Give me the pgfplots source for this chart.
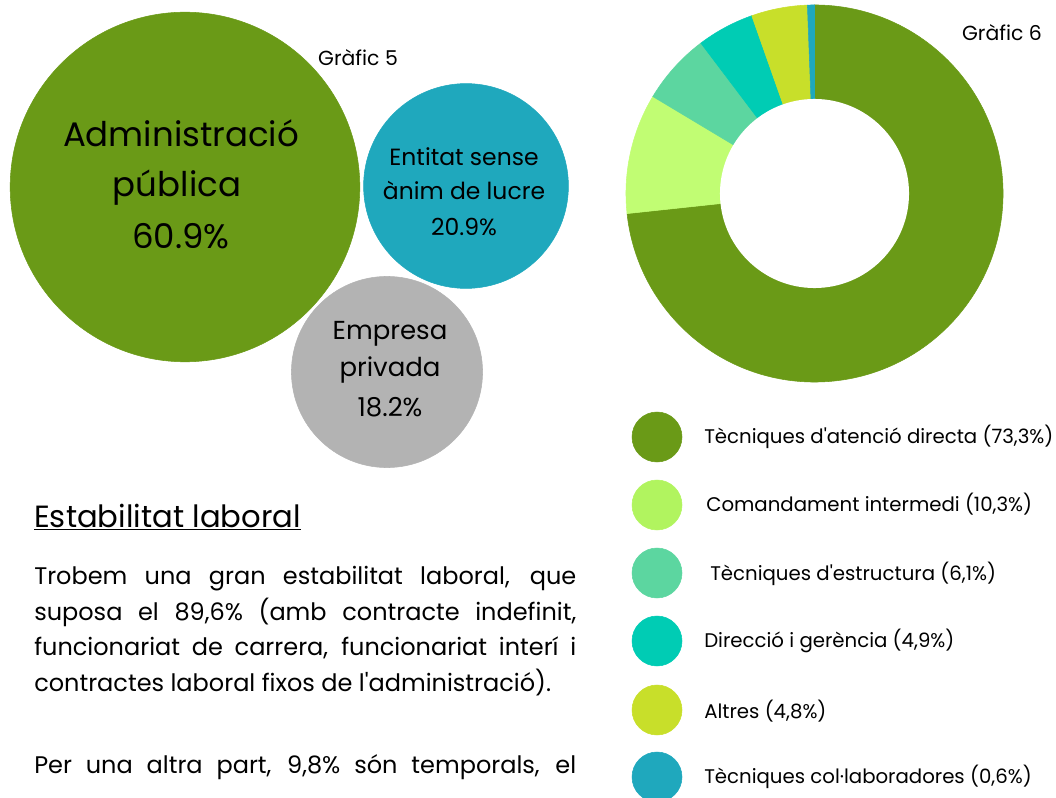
\documentclass[border=0pt]{standalone}
\usepackage{fontspec}
\setmainfont{Poppins}[Ligatures=TeXOff]
\usepackage{pgfplots}
\pgfplotsset{compat=1.18}
\definecolor{cOlive}{HTML}{6A9A17}
\definecolor{cTeal}{HTML}{1FA8BD}
\definecolor{cGray}{HTML}{B3B3B3}
\definecolor{cLight}{HTML}{C1FD73}
\definecolor{cLightL}{HTML}{B1F45F}
\definecolor{cMint}{HTML}{5CD6A0}
\definecolor{cTurq}{HTML}{00CCB4}
\definecolor{cYel}{HTML}{C8DF2A}
\newcommand\fs[1]{\fontsize{#1}{#1}\selectfont}
\newcommand\donutslice[3]{%
\pgfmathsetmacro\aS{90-3.6*#1}%
\pgfmathsetmacro\aE{90-3.6*(#1+#2)}%
\edef\tmp{\noexpand\fill[#3, draw=#3, line width=0.4pt] (axis cs:814.5,193.5) -- ++(\aS:141.4pt) arc[start angle=\aS,end angle=\aE,radius=141.4pt] -- cycle;}%
\tmp}
\begin{document}
\begin{tikzpicture}
\begin{axis}[width=792pt,height=598.5pt,scale only axis,
  xmin=0,xmax=1056,ymin=0,ymax=798,y dir=reverse,hide axis,clip=false]
\coordinate (bl) at (axis cs:0,798);
\coordinate (tr) at (axis cs:1056,0);
% ---- Bubble chart (area proportional to share)
\addplot[only marks, mark=*, mark size={sqrt(60.9)*16.8}, mark options={fill=cOlive, draw=cOlive}] coordinates {(185,187)};
\addplot[only marks, mark=*, mark size={sqrt(20.9)*16.8}, mark options={fill=cTeal, draw=cTeal}] coordinates {(466,186)};
\addplot[only marks, mark=*, mark size={sqrt(18.2)*16.8}, mark options={fill=cGray, draw=cGray}] coordinates {(387,372)};
\coordinate (a1) at (axis cs:181,147);
\coordinate (a2) at (axis cs:177,197);
\coordinate (a3) at (axis cs:181,249);
\coordinate (b1) at (axis cs:464,166);
\coordinate (b2) at (axis cs:464,200);
\coordinate (b3) at (axis cs:464,236);
\coordinate (c1) at (axis cs:390,340);
\coordinate (c2) at (axis cs:390,377);
\coordinate (c3) at (axis cs:390,417);
\node[anchor=base] at (axis cs:358,66) {\fs{15.3}Gràfic 5};
\node[anchor=base] at (axis cs:1002,41) {\fs{15.3}Gràfic 6};
% ---- Donut chart
\donutslice{0}{73.3}{cOlive}
\donutslice{73.3}{10.3}{cLight}
\donutslice{83.6}{6.1}{cMint}
\donutslice{89.7}{4.9}{cTurq}
\donutslice{94.6}{4.8}{cYel}
\donutslice{99.4}{0.6}{cTeal}
\fill[white] (axis cs:814.5,193.5) circle[radius=70.9pt];
% ---- Legend
\addplot[only marks, mark=*, mark size=18.75, mark options={fill=cOlive, draw=cOlive}] coordinates {(657,437)};
\addplot[only marks, mark=*, mark size=18.75, mark options={fill=cLightL, draw=cLightL}] coordinates {(657,505)};
\addplot[only marks, mark=*, mark size=18.75, mark options={fill=cMint, draw=cMint}] coordinates {(657,573)};
\addplot[only marks, mark=*, mark size=18.75, mark options={fill=cTurq, draw=cTurq}] coordinates {(657,641)};
\addplot[only marks, mark=*, mark size=18.75, mark options={fill=cYel, draw=cYel}] coordinates {(657,710)};
\addplot[only marks, mark=*, mark size=18.75, mark options={fill=cTeal, draw=cTeal}] coordinates {(657,777)};
\node[anchor=base west, inner sep=0pt] at (axis cs:704,443) {\fs{14.8}Tècniques d'atenció directa (73,3\%)};
\node[anchor=base west, inner sep=0pt] at (axis cs:706,511) {\fs{14.8}Comandament intermedi (10,3\%)};
\node[anchor=base west, inner sep=0pt] at (axis cs:710,580) {\fs{14.8}Tècniques d'estructura (6,1\%)};
\node[anchor=base west, inner sep=0pt] at (axis cs:704,647) {\fs{14.8}Direcció i gerència (4,9\%)};
\node[anchor=base west, inner sep=0pt] at (axis cs:704,718) {\fs{14.8}Altres (4,8\%)};
\node[anchor=base west, inner sep=0pt] at (axis cs:704,783) {\fs{14.8}Tècniques col·laboradores (0,6\%)};
% ---- Text block
\node[anchor=base west, inner sep=0pt] at (axis cs:34,527) {\fs{23}\underline{Estabilitat laboral}};
\node[anchor=base west, inner sep=0pt] at (axis cs:34,584) {\fs{18}\makebox[406.5pt][s]{Trobem una gran estabilitat laboral, que}};
\node[anchor=base west, inner sep=0pt] at (axis cs:34,620) {\fs{18}\makebox[406.5pt][s]{suposa el 89,6\% (amb contracte indefinit,}};
\node[anchor=base west, inner sep=0pt] at (axis cs:34,655) {\fs{18}\makebox[406.5pt][s]{funcionariat de carrera, funcionariat interí i}};
\node[anchor=base west, inner sep=0pt] at (axis cs:34,691) {\fs{18}contractes laboral fixos de l'administració).};
\node[anchor=base west, inner sep=0pt] at (axis cs:34,773) {\fs{18}\makebox[406.5pt][s]{Per una altra part, 9,8\% són temporals, el}};
\end{axis}
\node[anchor=base] at (a1) {\fs{25.5}Administració};
\node[anchor=base] at (a2) {\fs{25.5}pública};
\node[anchor=base] at (a3) {\fs{25.5}60.9\%};
\node[anchor=base] at (b1) {\fs{17.6}Entitat sense};
\node[anchor=base] at (b2) {\fs{17.6}ànim de lucre};
\node[anchor=base] at (b3) {\fs{17.6}20.9\%};
\node[anchor=base] at (c1) {\fs{19.5}Empresa};
\node[anchor=base] at (c2) {\fs{19.5}privada};
\node[anchor=base] at (c3) {\fs{19.5}18.2\%};
\pgfresetboundingbox
\path[use as bounding box] (bl) rectangle (tr);
\end{tikzpicture}
\end{document}
